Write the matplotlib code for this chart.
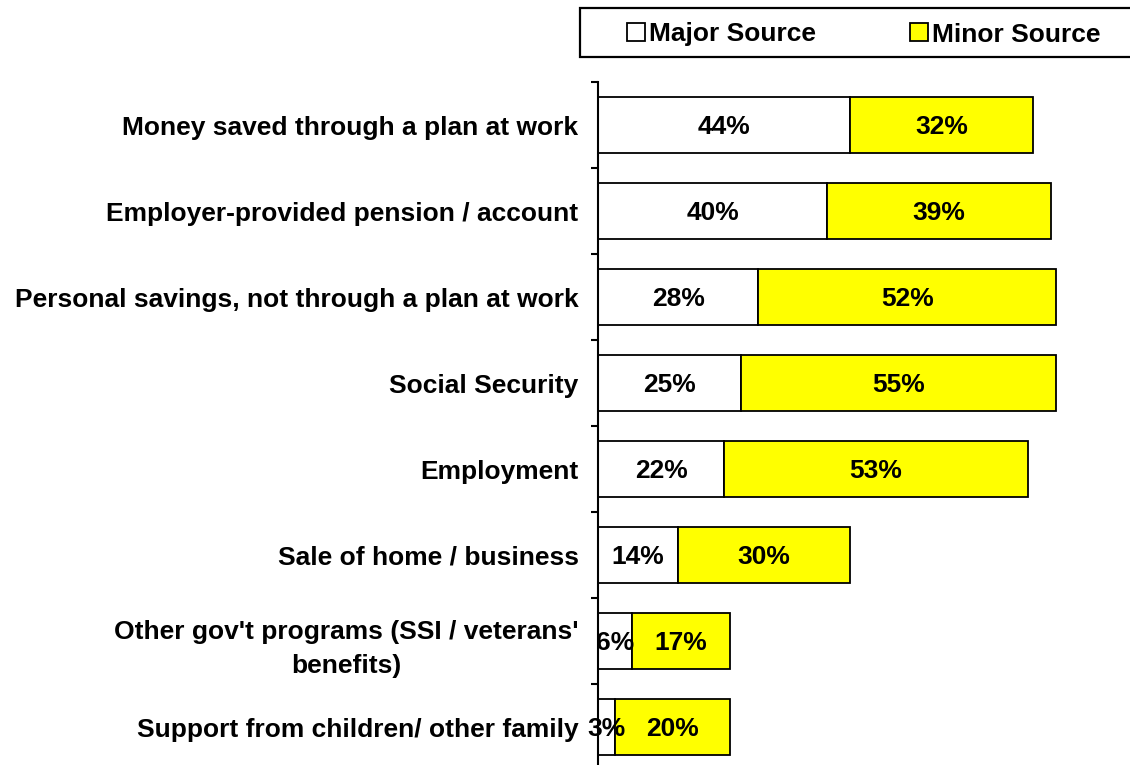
import numpy as np
import matplotlib.pyplot as plt
from matplotlib.patches import Rectangle

plt.rcParams['font.family'] = ['Liberation Sans', 'DejaVu Sans']
plt.rcParams['font.weight'] = 'bold'

# data, top to bottom
categories = ["Money saved through a plan at work",
              "Employer-provided pension / account",
              "Personal savings, not through a plan at work",
              "Social Security",
              "Employment",
              "Sale of home / business",
              "Other gov't programs (SSI / veterans'\nbenefits)",
              "Support from children/ other family"]
major = [44, 40, 28, 25, 22, 14, 6, 3]
minor = [32, 39, 52, 55, 53, 30, 17, 20]
series_names = ["Major Source", "Minor Source"]
colors = ['white', '#ffff00']

W, H = 1130, 765
fig = plt.figure(figsize=(W/100, H/100), dpi=100)
ax = fig.add_axes([598/W, (H-770)/H, 573/W, 688/H])

y = np.arange(len(categories))
major = np.array(major)
minor = np.array(minor)
ax.barh(y, major, height=0.66, color=colors[0], edgecolor='black', linewidth=1.3)
ax.barh(y, minor, left=major, height=0.66, color=colors[1], edgecolor='black', linewidth=1.3)

for i in range(len(y)):
    ax.text(major[i]/2, y[i], f"{major[i]}%", ha='center', va='center_baseline', fontsize=19, fontweight='bold')
    ax.text(major[i] + minor[i]/2, y[i], f"{minor[i]}%", ha='center', va='center_baseline', fontsize=19, fontweight='bold')

ax.set_xlim(0, 100)
ax.set_ylim(len(categories) - 0.5, -0.5)
ax.set_yticks(y)
ax.set_yticklabels(categories, fontsize=19, fontweight='bold', multialignment='center', linespacing=1.55)
ax.set_yticks(np.arange(len(categories) + 1) - 0.5, minor=True)
ax.tick_params(axis='y', which='major', length=0, pad=14)
ax.tick_params(axis='y', which='minor', length=5, width=1.5)
ax.set_xticks([])
for s in ['top', 'right', 'bottom']:
    ax.spines[s].set_visible(False)
ax.spines['left'].set_linewidth(1.5)

# legend box drawn by hand (figure pixels -> fraction)
def fx(px):
    return px / W

def fy(py):
    return 1 - py / H

fig.patches.append(Rectangle((fx(580), fy(57)), fx(1140) - fx(580), fy(8) - fy(57),
                             transform=fig.transFigure, facecolor='white',
                             edgecolor='black', linewidth=1.6))
for x0, name, c in zip([627, 910], series_names, colors):
    fig.patches.append(Rectangle((fx(x0), fy(41)), fx(18), 18/H, transform=fig.transFigure,
                                 facecolor=c, edgecolor='black', linewidth=1.3))
    fig.text(fx(x0 + 22), fy(32), name, ha='left', va='center_baseline',
             fontsize=19, fontweight='bold')

fig.savefig('out.png', dpi=100)
